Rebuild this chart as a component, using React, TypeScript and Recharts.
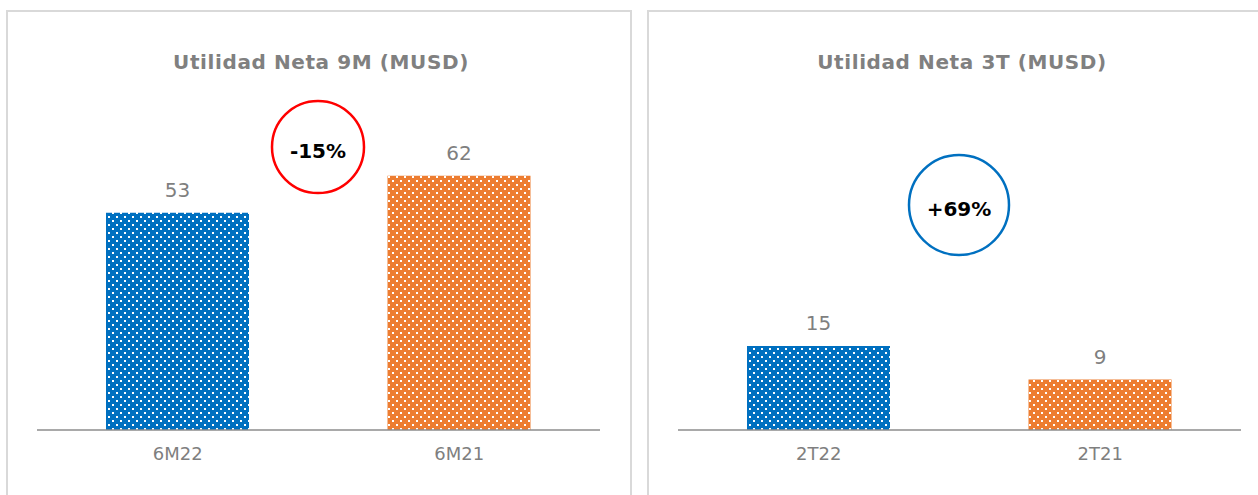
import React from 'react';
import { BarChart, Bar, XAxis, YAxis, Cell, LabelList } from 'recharts';

// data
const leftCategories = ['6M22', '6M21'];
const leftValues = [53, 62];
const rightCategories = ['2T22', '2T21'];
const rightValues = [15, 9];
const leftTitle = 'Utilidad Neta 9M (MUSD)';
const rightTitle = 'Utilidad Neta 3T (MUSD)';
const leftBadge = '-15%';
const rightBadge = '+69%';

const patternIds = ['dots-blue', 'dots-orange'];
const barColors = ['#0070C0', '#ED7D31'];
const FONT = '"DejaVu Sans", Verdana, sans-serif';

interface PanelProps {
  left: number;
  title: string;
  categories: string[];
  values: number[];
  domainMax: number;
  topMargin: number;
  badge: string;
  badgeColor: string;
  badgeX: number;
  badgeY: number;
  badgeR: number;
}

const Panel: React.FC<PanelProps> = ({
  left, title, categories, values, domainMax, topMargin, badge, badgeColor, badgeX, badgeY, badgeR,
}) => {
  const data = categories.map((name, i) => ({ name, value: values[i] }));
  return (
    <div
      style={{
        position: 'absolute',
        left,
        top: 10,
        width: 626,
        height: 500,
        border: '2px solid #d9d9d9',
        boxSizing: 'border-box',
        background: '#fff',
      }}
    >
      <div
        style={{
          position: 'absolute',
          left: 0,
          width: 626,
          top: 38,
          textAlign: 'center',
          fontFamily: FONT,
          fontWeight: 'bold',
          fontSize: 20,
          letterSpacing: 0.6,
          color: '#808080',
        }}
      >
        {title}
      </div>
      <div style={{ position: 'absolute', left: -1, top: -1 }}>
        <BarChart
          width={625}
          height={484}
          data={data}
          margin={{ top: topMargin, right: 32, left: 30, bottom: 25 }}
        >
          <XAxis
            dataKey="name"
            height={40}
            tickLine={false}
            tickSize={0}
            tickMargin={17}
            axisLine={{ stroke: '#8c8c8c', strokeWidth: 1.5 }}
            tick={{ fontSize: 18, fill: '#7f7f7f', fontFamily: FONT }}
          />
          <YAxis hide domain={[0, domainMax]} />
          <Bar dataKey="value" barSize={143} isAnimationActive={false}>
            {data.map((_, i) => (
              <Cell key={`cell-${i}`} fill={`url(#${patternIds[i]})`} />
            ))}
            <LabelList
              dataKey="value"
              position="top"
              offset={16}
              style={{ fontSize: 20, fill: '#7f7f7f', fontFamily: FONT }}
            />
          </Bar>
        </BarChart>
      </div>
      <svg
        width={626}
        height={484}
        style={{ position: 'absolute', left: -2, top: -2, pointerEvents: 'none' }}
      >
        <circle cx={badgeX} cy={badgeY} r={badgeR} fill="#fff" stroke={badgeColor} strokeWidth={2.5} />
        <text
          x={badgeX}
          y={badgeY + 11}
          textAnchor="middle"
          fontFamily={FONT}
          fontWeight="bold"
          fontSize={20}
          fill="#000"
        >
          {badge}
        </text>
      </svg>
    </div>
  );
};

export default function App() {
  return (
    <div
      style={{
        position: 'absolute',
        left: 0,
        top: 0,
        width: 1258,
        height: 495,
        overflow: 'hidden',
        background: '#fff',
      }}
    >
      <svg width={0} height={0} style={{ position: 'absolute' }}>
        <defs>
          {patternIds.map((id, i) => (
            <pattern key={id} id={id} width={8} height={8} patternUnits="userSpaceOnUse">
              <rect width={8} height={8} fill={barColors[i]} />
              <rect x={1} y={1} width={2} height={2} fill="#fff" />
              <rect x={5} y={5} width={2} height={2} fill="#fff" />
            </pattern>
          ))}
        </defs>
      </svg>
      <Panel
        left={6}
        title={leftTitle}
        categories={leftCategories}
        values={leftValues}
        domainMax={70}
        topMargin={132}
        badge={leftBadge}
        badgeColor="#ff0000"
        badgeX={312}
        badgeY={137}
        badgeR={46}
      />
      <Panel
        left={647}
        title={rightTitle}
        categories={rightCategories}
        values={rightValues}
        domainMax={50}
        topMargin={139}
        badge={rightBadge}
        badgeColor="#0070C0"
        badgeX={312}
        badgeY={195}
        badgeR={50}
      />
    </div>
  );
}
